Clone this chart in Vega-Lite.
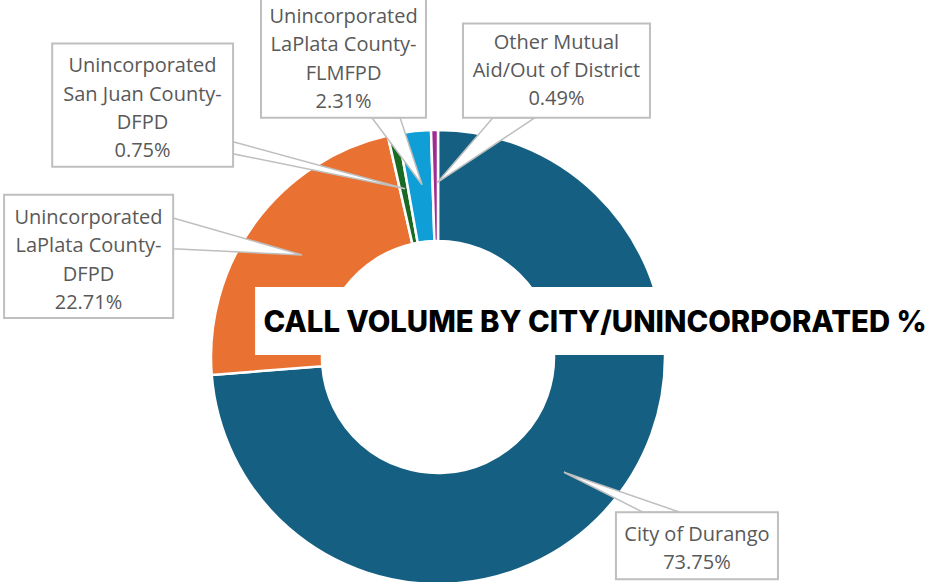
{
  "$schema": "https://vega.github.io/schema/vega-lite/v6.json",
  "autosize": {"type": "none"},
  "width": 876,
  "height": 450,
  "padding": {"left": 0, "top": 132, "right": 52, "bottom": 0},
  "background": "white",
  "config": {"view": {"stroke": null}},
  "datasets": {
    "slices": [
      {"category": "City of Durango", "pct": 73.75, "order": 1},
      {"category": "Unincorporated LaPlata County-DFPD", "pct": 22.71, "order": 2},
      {"category": "Unincorporated San Juan County-DFPD", "pct": 0.75, "order": 3},
      {"category": "Unincorporated LaPlata County-FLMFPD", "pct": 2.31, "order": 4},
      {"category": "Other Mutual Aid/Out of District", "pct": 0.49, "order": 5}
    ],
    "boxes": [
      {"id": "sj", "x1": -1.70, "x2": -0.903, "y1": 1.379, "y2": 0.837, "tx": -1.302, "ty": 1.279, "label": "Unincorporated\nSan Juan County-\nDFPD\n0.75%"},
      {"id": "flm", "x1": -0.780, "x2": -0.053, "y1": 1.60, "y2": 1.053, "tx": -0.416, "ty": 1.496, "label": "Unincorporated\nLaPlata County-\nFLMFPD\n2.31%"},
      {"id": "oth", "x1": 0.110, "x2": 0.934, "y1": 1.467, "y2": 1.053, "tx": 0.522, "ty": 1.383, "label": "Other Mutual\nAid/Out of District\n0.49%"},
      {"id": "dfpd", "x1": -1.912, "x2": -1.167, "y1": 0.714, "y2": 0.172, "tx": -1.540, "ty": 0.612, "label": "Unincorporated\nLaPlata County-\nDFPD\n22.71%"},
      {"id": "city", "x1": 0.784, "x2": 1.498, "y1": -0.683, "y2": -0.978, "tx": 1.141, "ty": -0.784, "label": "City of Durango\n73.75%"}
    ],
    "wedgesV": [
      {"id": "dfpd", "x": -1.167, "y": 0.612, "y2": 0.476},
      {"id": "dfpd", "x": -0.599, "y": 0.449, "y2": 0.449},
      {"id": "sj", "x": -0.903, "y": 0.947, "y2": 0.894},
      {"id": "sj", "x": -0.145, "y": 0.740, "y2": 0.740}
    ],
    "wedgesH": [
      {"id": "flm", "y": 1.053, "x": -0.291, "x2": -0.167},
      {"id": "flm", "y": 0.758, "x": -0.070, "x2": -0.070},
      {"id": "oth", "y": 1.053, "x": 0.242, "x2": 0.427},
      {"id": "oth", "y": 0.767, "x": -0.004, "x2": -0.004},
      {"id": "city", "y": -0.683, "x": 0.903, "x2": 1.066},
      {"id": "city", "y": -0.507, "x": 0.555, "x2": 0.555}
    ],
    "title": [
      {"x1": -0.806, "x2": 2.2, "y1": 0.308, "y2": 0.009, "tx": 0.692, "ty": 0.148, "text": "CALL VOLUME BY CITY/UNINCORPORATED %"}
    ]
  },
  "layer": [
    {
      "data": {"name": "slices"},
      "mark": {"type": "arc", "innerRadius": 116, "outerRadius": 227, "stroke": "white", "strokeWidth": 2.5},
      "encoding": {
        "theta": {"field": "pct", "type": "quantitative", "stack": true},
        "order": {"field": "order", "type": "quantitative"},
        "color": {
          "field": "category", "type": "nominal", "legend": null,
          "scale": {
            "domain": ["City of Durango", "Unincorporated LaPlata County-DFPD", "Unincorporated San Juan County-DFPD", "Unincorporated LaPlata County-FLMFPD", "Other Mutual Aid/Out of District"],
            "range": ["#156082", "#E97132", "#196B24", "#0F9ED5", "#A02B93"]
          }
        }
      }
    },
    {
      "data": {"name": "wedgesV"},
      "mark": {"type": "area", "orient": "vertical", "fill": "white", "stroke": "#bfbfbf", "strokeWidth": 1.5, "interpolate": "linear"},
      "encoding": {
        "x": {"field": "x", "type": "quantitative", "axis": null, "scale": {"domain": [-1.93, 1.93], "nice": false, "zero": false}},
        "y": {"field": "y", "type": "quantitative", "axis": null, "stack": null, "scale": {"domain": [-0.99, 0.99], "nice": false, "zero": false}},
        "y2": {"field": "y2"},
        "detail": {"field": "id", "type": "nominal"}
      }
    },
    {
      "data": {"name": "wedgesH"},
      "mark": {"type": "area", "orient": "horizontal", "fill": "white", "stroke": "#bfbfbf", "strokeWidth": 1.5, "interpolate": "linear"},
      "encoding": {
        "y": {"field": "y", "type": "quantitative", "axis": null, "scale": {"domain": [-0.99, 0.99], "nice": false, "zero": false}},
        "x": {"field": "x", "type": "quantitative", "axis": null, "stack": null, "scale": {"domain": [-1.93, 1.93], "nice": false, "zero": false}},
        "x2": {"field": "x2"},
        "detail": {"field": "id", "type": "nominal"}
      }
    },
    {
      "data": {"name": "boxes"},
      "mark": {"type": "rect", "fill": "white", "stroke": "#bfbfbf", "strokeWidth": 2},
      "encoding": {
        "x": {"field": "x1", "type": "quantitative", "axis": null, "scale": {"domain": [-1.93, 1.93], "nice": false, "zero": false}},
        "x2": {"field": "x2"},
        "y": {"field": "y1", "type": "quantitative", "axis": null, "scale": {"domain": [-0.99, 0.99], "nice": false, "zero": false}},
        "y2": {"field": "y2"}
      }
    },
    {
      "data": {"name": "boxes"},
      "mark": {"type": "text", "lineBreak": "\n", "font": "Open Sans", "fontSize": 20, "lineHeight": 28.3, "color": "#595959", "align": "center", "baseline": "middle"},
      "encoding": {
        "x": {"field": "tx", "type": "quantitative", "axis": null, "scale": {"domain": [-1.93, 1.93], "nice": false, "zero": false}},
        "y": {"field": "ty", "type": "quantitative", "axis": null, "scale": {"domain": [-0.99, 0.99], "nice": false, "zero": false}},
        "text": {"field": "label", "type": "nominal"}
      }
    },
    {
      "data": {"name": "title"},
      "mark": {"type": "rect", "fill": "white"},
      "encoding": {
        "x": {"field": "x1", "type": "quantitative", "axis": null, "scale": {"domain": [-1.93, 1.93], "nice": false, "zero": false}},
        "x2": {"field": "x2"},
        "y": {"field": "y1", "type": "quantitative", "axis": null, "scale": {"domain": [-0.99, 0.99], "nice": false, "zero": false}},
        "y2": {"field": "y2"}
      }
    },
    {
      "data": {"name": "title"},
      "mark": {"type": "text", "font": "Inter", "fontWeight": 800, "fontSize": 29.3, "color": "black", "align": "center", "baseline": "middle"},
      "encoding": {
        "x": {"field": "tx", "type": "quantitative", "axis": null, "scale": {"domain": [-1.93, 1.93], "nice": false, "zero": false}},
        "y": {"field": "ty", "type": "quantitative", "axis": null, "scale": {"domain": [-0.99, 0.99], "nice": false, "zero": false}},
        "text": {"field": "text", "type": "nominal"}
      }
    }
  ]
}
